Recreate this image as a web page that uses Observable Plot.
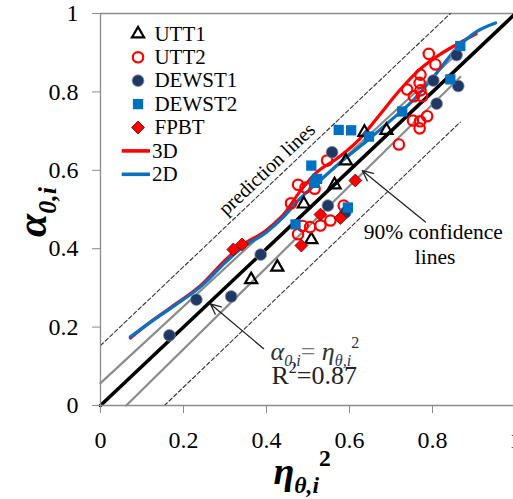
<!DOCTYPE html>
<html><head><meta charset="utf-8">
<script src="https://cdn.jsdelivr.net/npm/d3@7"></script>
<script src="https://cdn.jsdelivr.net/npm/@observablehq/plot@0.6"></script>
<style>html,body{margin:0;padding:0;background:#fff}#chart{width:513px;height:499px;overflow:hidden}</style>
</head><body><div id="chart"></div>
<script>
// ---- data ----
const UTT1 = [[0.363,0.321],[0.426,0.353],[0.490,0.514],[0.508,0.423],[0.564,0.563],[0.591,0.624],[0.636,0.697],[0.689,0.702]];
const UTT2 = [[0.459,0.516],[0.476,0.563],[0.494,0.556],[0.516,0.553],[0.546,0.625],[0.476,0.437],[0.487,0.458],[0.505,0.455],[0.530,0.459],[0.554,0.472],[0.586,0.510],
  [0.719,0.666],[0.739,0.806],[0.755,0.789],[0.753,0.727],[0.769,0.823],[0.769,0.707],[0.770,0.725],[0.771,0.844],[0.771,0.804],[0.775,0.789],[0.787,0.738],[0.791,0.897],[0.807,0.870]];
const DEWST1 = [[0.166,0.179],[0.231,0.270],[0.315,0.278],[0.386,0.385],[0.548,0.510],[0.558,0.646],[0.590,0.492],[0.802,0.829],[0.810,0.770],[0.858,0.894],[0.862,0.815]];
const DEWST2 = [[0.470,0.462],[0.508,0.612],[0.516,0.568],[0.522,0.578],[0.574,0.703],[0.596,0.505],[0.604,0.702],[0.647,0.686],[0.727,0.750],[0.843,0.832],[0.867,0.917]];
const FPBT = [[0.320,0.398],[0.341,0.411],[0.484,0.408],[0.530,0.487],[0.578,0.478],[0.614,0.574]];
const curve3D = [[0.072,0.172],[0.12,0.213],[0.18,0.258],[0.24,0.305],[0.30,0.37],[0.34,0.408],[0.40,0.447],[0.44,0.485],[0.48,0.545],[0.52,0.594],[0.57,0.630],[0.62,0.675],[0.67,0.738],[0.72,0.803],[0.77,0.858],[0.82,0.897],[0.86,0.922],[0.905,0.948]];
const curve2D = [[0.072,0.175],[0.12,0.212],[0.18,0.256],[0.24,0.302],[0.30,0.364],[0.34,0.402],[0.40,0.442],[0.44,0.48],[0.48,0.527],[0.53,0.575],[0.58,0.622],[0.643,0.676],[0.70,0.728],[0.75,0.775],[0.80,0.835],[0.86,0.913],[0.908,0.955],[0.952,0.976]];
const fitLine = [[0,0],[1,1]];
const confUpper = [[0,0.057],[0.862,0.90]];
const confLower = [[0.062,0],[0.867,0.838]];
const predUpper = [[0,0.153],[0.843,1.0]];
const predLower = [[0.154,0],[0.867,0.723]];
const xTicks = [0,0.2,0.4,0.6,0.8,1];
const yTicks = [0,0.2,0.4,0.6,0.8,1];
const pointNames = ["UTT1","UTT2","DEWST1","DEWST2","FPBT"];
const lineNames = ["3D","2D"];

// ---- styling ----
const RED = "#ff0000", BLUE = "#0a70c0", NAVY = "#1f3864", SQ = "#0070c0", GRAY = "#8c8c8c";
const X = d => d[0], Y = d => d[1];
const FONT = "'Liberation Serif', 'Times New Roman', serif";
const legTop = 0.948, legStep = 0.0597;
const legY = i => legTop - i * legStep;
const symX = 0.0904, txtX = 0.130;

const legendRows = pointNames.map((n, i) => ({name: n, i}));
const lineRows = lineNames.map((n, i) => ({name: n, i: i + pointNames.length, color: i === 0 ? RED : BLUE}));

const arrows = [
  {x1: 0.393, y1: 0.145, x2: 0.265, y2: 0.259},
  {x1: 0.783, y1: 0.468, x2: 0.631, y2: 0.599}
];

// text with _{sub}, ^{sup}, !{upright} markup, expanded into tspans after rendering
const txt = (t, x, y, o = {}) => Plot.text([t], {x: () => x, y: () => y, text: d => d, textAnchor: "start", lineAnchor: "bottom", fontFamily: FONT, ...o});
const subColor = {"α_{0,i}!{= }η_{θ,i}^{2}": "#1f3864"};

const plot = Plot.plot({
  width: 513, height: 499,
  marginLeft: 100, marginRight: -2, marginTop: 13, marginBottom: 94,
  x: {domain: [0, 1]}, y: {domain: [0, 1]},
  style: {fontFamily: FONT, fontSize: "22px", background: "white", color: "black"},
  marks: [
    Plot.ruleY([1], {stroke: GRAY, strokeWidth: 1.3}),
    Plot.line(predUpper, {x: X, y: Y, stroke: "#333", strokeWidth: 1.1, strokeDasharray: "4,2.5"}),
    Plot.line(predLower, {x: X, y: Y, stroke: "#333", strokeWidth: 1.1, strokeDasharray: "4,2.5"}),
    Plot.line(confUpper, {x: X, y: Y, stroke: GRAY, strokeWidth: 2.2}),
    Plot.line(confLower, {x: X, y: Y, stroke: GRAY, strokeWidth: 2.2}),
    Plot.line(fitLine, {x: X, y: Y, stroke: "black", strokeWidth: 3.6}),
    Plot.line(curve3D, {x: X, y: Y, stroke: RED, strokeWidth: 3.2, curve: "monotone-x"}),
    Plot.line(curve2D, {x: X, y: Y, stroke: BLUE, strokeWidth: 3.2, curve: "monotone-x"}),
    Plot.dot(UTT1, {x: X, y: Y, symbol: "triangle2", r: 5.8, stroke: "black", strokeWidth: 2.2, fill: "none"}),
    Plot.dot(UTT2, {x: X, y: Y, symbol: "circle", r: 5.2, stroke: RED, strokeWidth: 2.2, fill: "none"}),
    Plot.dot(DEWST1, {x: X, y: Y, symbol: "circle", r: 5.9, fill: NAVY, stroke: "#8892a8", strokeWidth: 0.8}),
    Plot.dot(DEWST2, {x: X, y: Y, symbol: "square", r: 5.8, fill: SQ}),
    Plot.dot(FPBT, {x: X, y: Y, symbol: "diamond2", r: 5.8, fill: RED, stroke: "#6b0000", strokeWidth: 0.8}),
    Plot.arrow(arrows, {x1: "x1", y1: "y1", x2: "x2", y2: "y2", stroke: "#222", strokeWidth: 1.3, headLength: 13, headAngle: 50}),
    // axes
    Plot.axisX({ticks: xTicks, tickFormat: d => String(d), tickSize: 8, tickPadding: 17, stroke: GRAY, fill: "black", label: null, fontSize: 24, fontFamily: FONT}),
    Plot.axisY({ticks: yTicks, tickFormat: d => String(d), tickSize: 8, tickPadding: 14, stroke: GRAY, fill: "black", label: null, fontSize: 24, fontFamily: FONT}),
    Plot.ruleX([0], {stroke: GRAY, strokeWidth: 1.3}),
    Plot.ruleY([0], {stroke: GRAY, strokeWidth: 1.3}),
    // legend
    Plot.dot(legendRows.filter(d => d.name === "UTT1"), {x: () => symX, y: d => legY(d.i), symbol: "triangle2", r: 5.8, stroke: "black", strokeWidth: 2.2, fill: "none"}),
    Plot.dot(legendRows.filter(d => d.name === "UTT2"), {x: () => symX, y: d => legY(d.i), symbol: "circle", r: 5.2, stroke: RED, strokeWidth: 2.2, fill: "none"}),
    Plot.dot(legendRows.filter(d => d.name === "DEWST1"), {x: () => symX, y: d => legY(d.i), symbol: "circle", r: 5.9, fill: NAVY, stroke: "#8892a8", strokeWidth: 0.8}),
    Plot.dot(legendRows.filter(d => d.name === "DEWST2"), {x: () => symX, y: d => legY(d.i), symbol: "square", r: 5.8, fill: SQ}),
    Plot.dot(legendRows.filter(d => d.name === "FPBT"), {x: () => symX, y: d => legY(d.i), symbol: "diamond2", r: 5.8, fill: RED, stroke: "#6b0000", strokeWidth: 0.8}),
    Plot.text(legendRows, {x: () => txtX, y: d => legY(d.i), text: "name", textAnchor: "start", lineAnchor: "middle", fontSize: 21, fontFamily: FONT, fill: "black"}),
    Plot.ruleY(lineRows, {y: d => legY(d.i), x1: () => 0.0523, x2: () => 0.1205, stroke: "color", strokeWidth: 3.6}),
    Plot.text(lineRows, {x: () => 0.124, y: d => legY(d.i), text: "name", textAnchor: "start", lineAnchor: "middle", fontSize: 21, fontFamily: FONT, fill: "black"}),
    // annotations
    Plot.text(["prediction lines"], {x: () => 0.401, y: () => 0.603, text: d => d, rotate: -43.4, fontSize: 20, fontFamily: FONT, fill: "black"}),
    Plot.text(["90% confidence"], {x: () => 0.802, y: () => 0.424, text: d => d, lineAnchor: "bottom", fontSize: 21.5, fontFamily: FONT, fill: "black"}),
    Plot.text(["lines"], {x: () => 0.806, y: () => 0.362, text: d => d, lineAnchor: "bottom", fontSize: 21.5, fontFamily: FONT, fill: "black"}),
    txt("α_{0,i}!{= }η_{θ,i}^{2}", 0.4096, 0.1173, {fontSize: 26, fontStyle: "italic", fill: "#333"}),
    txt("R^{2}=0.87", 0.412, 0.0536, {fontSize: 26, fill: "#222"}),
    // axis titles
    txt("η_{θ,i}^{2}", 0.4169, -0.199, {fontSize: 38, fontStyle: "italic", fontWeight: "bold"}),
    txt("α_{0,i}", -0.1325, 0.43, {fontSize: 42, fontStyle: "italic", fontWeight: "bold", rotate: -90})
  ]
});
document.getElementById("chart").appendChild(plot);

// expand markup into sub/superscript tspans
const NS = "http://www.w3.org/2000/svg";
plot.querySelectorAll("text").forEach(t => {
  const s = t.textContent;
  if (!/[_^!]\{/.test(s)) return;
  const fs = parseFloat(getComputedStyle(t).fontSize) || 22;
  while (t.firstChild) t.removeChild(t.firstChild);
  const re = /([_^!])\{([^}]*)\}|([^_^!]+)/g;
  let m, shift = 0;
  while ((m = re.exec(s))) {
    const ts = document.createElementNS(NS, "tspan");
    let target = 0;
    if (m[3] !== undefined) { ts.textContent = m[3]; }
    else if (m[1] === "!") { ts.textContent = m[2]; ts.setAttribute("font-style", "normal"); ts.setAttribute("fill", "#777"); }
    else {
      ts.textContent = m[2];
      target = m[1] === "_" ? 0.24 * fs : -0.45 * fs;
      ts.setAttribute("font-size", (fs * 0.62).toFixed(1));
      if (m[1] === "^") ts.setAttribute("font-style", "normal");
      if (m[1] === "_" && subColor[s]) ts.setAttribute("fill", subColor[s]);
    }
    ts.setAttribute("dy", (target - shift).toFixed(1));
    shift = target;
    t.appendChild(ts);
  }
});
</script>
</body></html>
